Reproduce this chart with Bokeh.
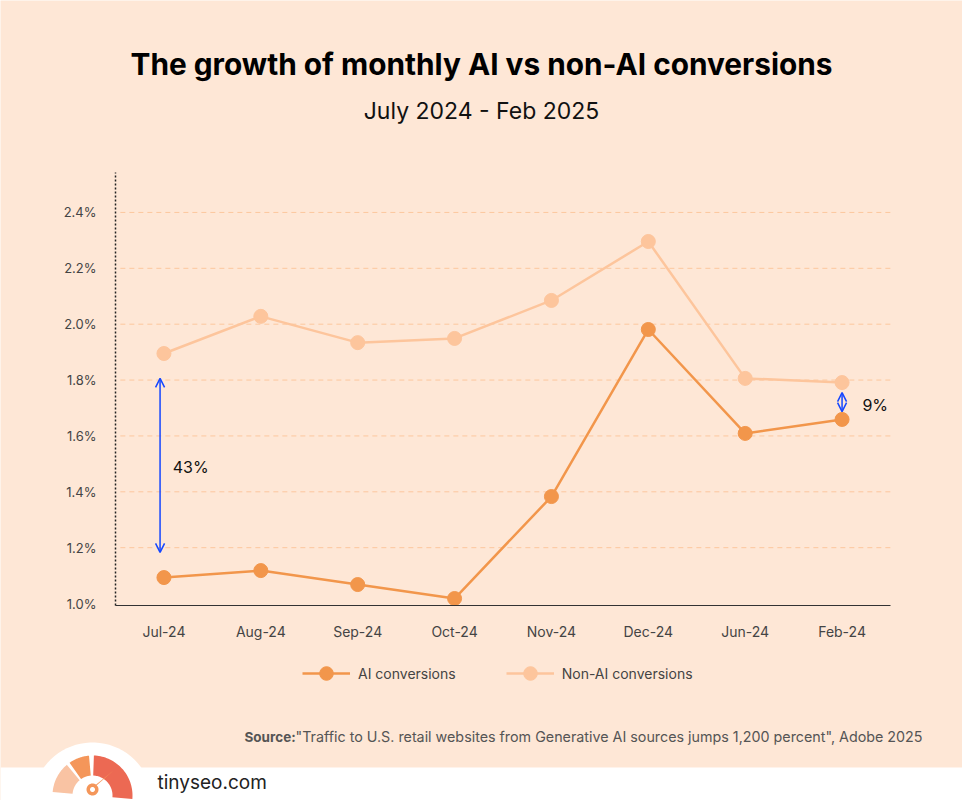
import numpy as np
from bokeh.plotting import figure
from bokeh.models import (ColumnDataSource, Label, Legend, LegendItem, FixedTicker, BoxAnnotation,
                          PolyAnnotation, PrintfTickFormatter, Range1d, Arrow, OpenHead, LinearAxis)
from bokeh.embed import file_html
from bokeh.resources import INLINE

# ---------------- data ----------------
months = ["Jul-24", "Aug-24", "Sep-24", "Oct-24", "Nov-24", "Dec-24", "Jun-24", "Feb-24"]
ai_conv = [1.093, 1.118, 1.068, 1.018, 1.383, 1.981, 1.609, 1.659]
non_ai_conv = [1.895, 2.028, 1.934, 1.949, 2.085, 2.296, 1.806, 1.791]
y_ticks = [1.0, 1.2, 1.4, 1.6, 1.8, 2.0, 2.2, 2.4]

# gap annotations: x (category index units), y start, y end, label, label position
gap_x = [0.46, 7.5]
gap_y0 = [1.806, 1.755]
gap_y1 = [1.183, 1.687]
gap_labels = ["43%", "9%"]
gap_label_x = [0.59, 7.71]
gap_label_y = [1.49, 1.712]

title_text = "The growth of monthly AI vs non-AI conversions"
subtitle_text = "July 2024 - Feb 2025"
source_bold = "Source:"
source_text = "\"Traffic to U.S. retail websites from Generative AI sources jumps 1,200 percent\", Adobe 2025"
brand_text = "tinyseo.com"

BG = "#FEE7D6"
AI_COL = "#F2964B"
NONAI_COL = "#FDC59C"
BLUE = "#1446FF"
FONT = "Inter"

W, H = 962, 800
PL, PR, PT, PB = 115, 890, 172, 605   # plot-area edges in page pixels
Y0, Y1 = 0.993, 2.543                 # value range of the plot area
NX = len(months)

# the figure frame covers the whole page; ranges are extended so the plot area lands at PL..PR / PT..PB
xu = (PR - PL) / NX
yu = (PB - PT) / (Y1 - Y0)
x_range = Range1d(-PL / xu, NX + (W - PR) / xu)
y_range = Range1d(Y0 - (H - PB) / yu, Y1 + PT / yu)


def sx(x):  # page x -> screen units
    return x


def sy(y):  # page y -> screen units (from bottom)
    return H - y


xpos = [i + 0.5 for i in range(NX)]
src = ColumnDataSource(dict(x=xpos, month=months, ai=ai_conv, nonai=non_ai_conv))

p = figure(width=W, height=H, x_range=x_range, y_range=y_range,
           toolbar_location=None, output_backend="svg", min_border=0,
           x_axis_location=None, y_axis_location=None)
p.background_fill_color = BG
p.border_fill_color = BG
p.outline_line_color = None
p.grid.visible = False

# dashed horizontal grid lines across the plot area
p.segment(x0=0.05, x1=NX, y0=y_ticks[1:], y1=y_ticks[1:], line_color="#FCC79E",
          line_dash="5 4", line_width=1)

yaxis = LinearAxis(fixed_location=0, bounds=(Y0, Y1), ticker=FixedTicker(ticks=y_ticks),
                   formatter=PrintfTickFormatter(format="%.1f%%"),
                   axis_line_color="#222222", axis_line_dash="2 2", axis_line_width=1.5,
                   major_tick_line_color=None, minor_tick_line_color=None, major_label_standoff=13)
xaxis = LinearAxis(fixed_location=Y0, bounds=(0, NX), ticker=FixedTicker(ticks=xpos),
                   major_label_overrides={x: m for x, m in zip(xpos, months)},
                   axis_line_color="#333333", axis_line_width=1,
                   major_tick_line_color=None, minor_tick_line_color=None, major_label_standoff=11)
for ax in (xaxis, yaxis):
    ax.major_label_text_font = FONT
    ax.major_label_text_color = "#444444"
xaxis.major_label_text_font_size = "14px"
yaxis.major_label_text_font_size = "13px"
p.add_layout(yaxis, "left")
p.add_layout(xaxis, "below")

l2 = p.line("x", "nonai", source=src, line_color=NONAI_COL, line_width=2.5)
s2 = p.scatter("x", "nonai", source=src, size=14, fill_color=NONAI_COL, line_color=NONAI_COL)
l1 = p.line("x", "ai", source=src, line_color=AI_COL, line_width=2.5)
s1 = p.scatter("x", "ai", source=src, size=14, fill_color=AI_COL, line_color=AI_COL)

for i in range(len(gap_x)):
    p.add_layout(Arrow(x_start=gap_x[i], y_start=gap_y0[i], x_end=gap_x[i], y_end=gap_y1[i],
                       line_color=BLUE, line_width=1.5,
                       start=OpenHead(size=9, line_color=BLUE, line_width=1.5),
                       end=OpenHead(size=9, line_color=BLUE, line_width=1.5)))
    p.add_layout(Label(x=gap_label_x[i], y=gap_label_y[i], text=gap_labels[i],
                       text_baseline="middle", text_align="left", text_font=FONT,
                       text_font_size="16px", text_color="#111111"))

legend = Legend(items=[LegendItem(label="AI conversions", renderers=[l1, s1]),
                       LegendItem(label="Non-AI conversions", renderers=[l2, s2])],
                orientation="horizontal", location=(298, sy(694)),
                background_fill_alpha=0, border_line_alpha=0,
                label_text_font=FONT, label_text_font_size="14px", label_text_color="#444444",
                glyph_width=48, glyph_height=34, label_standoff=8, spacing=50, margin=0, padding=4)
p.add_layout(legend)

# ---------------- header texts ----------------
p.add_layout(Label(x=sx(481), y=sy(63), x_units="screen", y_units="screen", text=title_text,
                   text_align="center", text_baseline="middle", text_font=FONT,
                   text_font_style="bold", text_font_size="29.8px", text_color="#000000"))
p.add_layout(Label(x=sx(481), y=sy(110), x_units="screen", y_units="screen", text=subtitle_text,
                   text_align="center", text_baseline="middle", text_font=FONT,
                   text_font_size="23px", text_color="#111111"))

# ---------------- footer ----------------
p.add_layout(Label(x=sx(244), y=sy(736), x_units="screen", y_units="screen", text=source_bold,
                   text_align="left", text_baseline="middle", text_font=FONT, text_font_style="bold",
                   text_font_size="13.5px", text_color="#555555"))
p.add_layout(Label(x=sx(922), y=sy(736), x_units="screen", y_units="screen", text=source_text,
                   text_align="right", text_baseline="middle", text_font=FONT,
                   text_font_size="14.3px", text_color="#555555"))

p.add_layout(BoxAnnotation(left=sx(0), right=sx(W), top=sy(767), bottom=sy(H),
                           left_units="screen", right_units="screen", top_units="screen",
                           bottom_units="screen", fill_color="white", fill_alpha=1, line_color=None))


def arc_poly(cx, cy, r_out, r_in, a0, a1, n=40):
    t = np.radians(np.linspace(a0, a1, n))
    xs = np.concatenate([cx + r_out * np.cos(t), cx + r_in * np.cos(t[::-1])])
    ys = np.concatenate([cy - r_out * np.sin(t), cy - r_in * np.sin(t[::-1])])
    return [sx(v) for v in xs], [sy(v) for v in ys]


def add_poly(xs, ys, color):
    p.add_layout(PolyAnnotation(xs=list(xs), ys=list(ys), xs_units="screen", ys_units="screen",
                                fill_color=color, fill_alpha=1, line_color=None))


add_poly(*arc_poly(92, 802, 60, 0, 0, 180), "white")
for a0, a1, c in [(130, 175, "#F9C3A3"), (95, 125, "#F4965A"), (-5, 88, "#EC6953")]:
    add_poly(*arc_poly(92, 795, 40, 20, a0, a1), c)
add_poly([sx(87), sx(96), sx(113)], [sy(791), sy(785), sy(770)], "#F4965A")
add_poly(*arc_poly(92, 789, 6, 0, 0, 360), "#F4965A")
add_poly(*arc_poly(92, 789, 2.5, 0, 0, 360), "white")

p.add_layout(Label(x=sx(157), y=sy(782), x_units="screen", y_units="screen", text=brand_text,
                   text_align="left", text_baseline="middle", text_font=FONT,
                   text_font_size="19px", text_color="#222222"))

open("out.html", "w").write(file_html(p, INLINE))
